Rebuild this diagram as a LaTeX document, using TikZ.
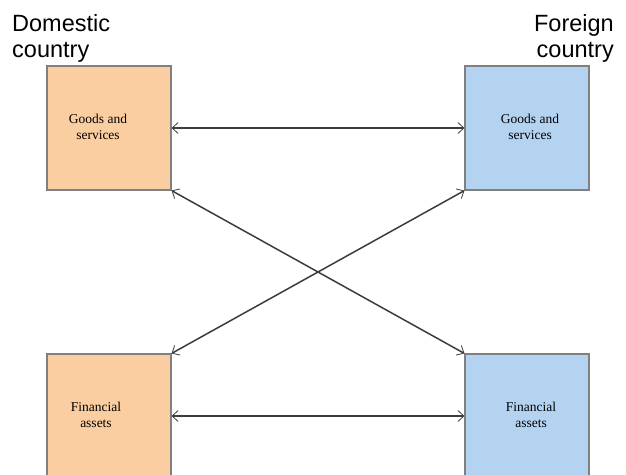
\documentclass[tikz,border=0pt]{standalone}
\usepackage{fontspec}
\setmainfont{Liberation Serif}
\newfontfamily\arialfont{Liberation Sans}
\usetikzlibrary{arrows.meta}
\definecolor{homeorange}{RGB}{251,206,161}
\definecolor{abroadblue}{RGB}{180,211,241}
\definecolor{linegray}{RGB}{60,60,60}
\tikzset{
	market/.style = {draw=gray, line width=1.1pt, minimum size=124pt, inner sep=0pt},
	boxtext/.style = {align=center, font=\fontsize{13.5pt}{16pt}\selectfont},
	country/.style = {inner sep=0pt, font=\arialfont\fontsize{23.5pt}{26pt}\selectfont},
	flow/.style = {linegray, line width=1.5pt, >={Straight Barb[length=6pt,width=11pt,line width=0.8pt]}, <->}
}
\begin{document}
\begin{tikzpicture}[x=1pt, y=-1pt]
	\useasboundingbox (0,0) rectangle (626,474);
	\clip (0,0) rectangle (626,474);
	% the four markets
	\node[market, fill=homeorange] (homegoods) at (109,128) {};
	\node[market, fill=abroadblue] (abroadgoods) at (527,128) {};
	\node[market, fill=homeorange] (homeassets) at (109,416) {};
	\node[market, fill=abroadblue] (abroadassets) at (527,416) {};
	\node[boxtext] (homegoodstext) at (98,127) {Goods and\\services};
	\node[boxtext] (abroadgoodstext) at (530,127) {Goods and\\services};
	\node[boxtext] (homeassetstext) at (96,415) {Financial\\assets};
	\node[boxtext] (abroadassetstext) at (531,415) {Financial\\assets};
	% country names
	\node[country, anchor=north west, align=left] (home) at (12,14) {Domestic\\country};
	\node[country, anchor=north east, align=right] (abroad) at (614,14) {Foreign\\country};
	% flows
	\draw[flow] (homegoods) -- (abroadgoods);
	\draw[flow] (homeassets) -- (abroadassets);
	\draw[flow] (homegoods.south east) -- (abroadassets.north west);
	\draw[flow] (abroadgoods.south west) -- (homeassets.north east);
\end{tikzpicture}
\end{document}
